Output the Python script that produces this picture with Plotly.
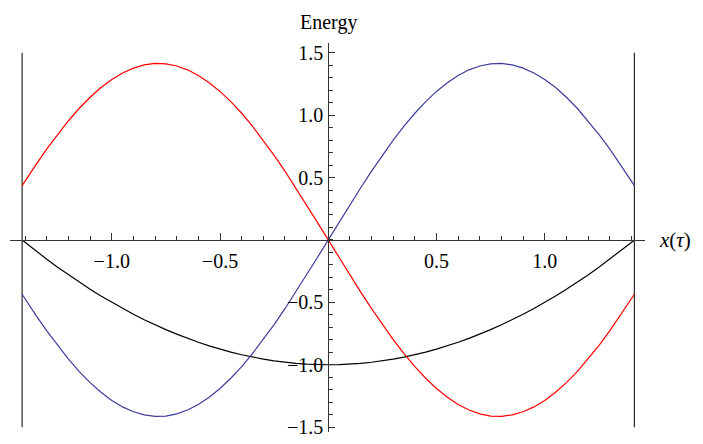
import plotly.graph_objects as go

# Sample positions along x(tau)
x_vals = [-1.414, -1.40, -1.35, -1.30, -1.25, -1.20, -1.15, -1.10, -1.05, -1.00,
          -0.95, -0.90, -0.85, -0.80, -0.75, -0.70, -0.65, -0.60, -0.55, -0.50,
          -0.45, -0.40, -0.35, -0.30, -0.25, -0.20, -0.15, -0.10, -0.05, 0.0,
          0.05, 0.10, 0.15, 0.20, 0.25, 0.30, 0.35, 0.40, 0.45, 0.50,
          0.55, 0.60, 0.65, 0.70, 0.75, 0.80, 0.85, 0.90, 0.95, 1.00,
          1.05, 1.10, 1.15, 1.20, 1.25, 1.30, 1.35, 1.40, 1.414]

# Energy branches
blue_vals = [-0.435, -0.474, -0.604, -0.729, -0.846, -0.955, -1.055, -1.143, -1.221, -1.286,
             -1.338, -1.377, -1.402, -1.414, -1.411, -1.394, -1.363, -1.318, -1.260, -1.190,
             -1.108, -1.015, -0.911, -0.799, -0.678, -0.551, -0.418, -0.281, -0.141, 0.0,
             0.141, 0.281, 0.418, 0.551, 0.678, 0.799, 0.911, 1.015, 1.108, 1.190,
             1.260, 1.318, 1.363, 1.394, 1.411, 1.414, 1.402, 1.377, 1.338, 1.286,
             1.221, 1.143, 1.055, 0.955, 0.846, 0.729, 0.604, 0.474, 0.435]
red_vals = [0.435, 0.474, 0.604, 0.729, 0.846, 0.955, 1.055, 1.143, 1.221, 1.286,
            1.338, 1.377, 1.402, 1.414, 1.411, 1.394, 1.363, 1.318, 1.260, 1.190,
            1.108, 1.015, 0.911, 0.799, 0.678, 0.551, 0.418, 0.281, 0.141, 0.0,
            -0.141, -0.281, -0.418, -0.551, -0.678, -0.799, -0.911, -1.015, -1.108, -1.190,
            -1.260, -1.318, -1.363, -1.394, -1.411, -1.414, -1.402, -1.377, -1.338, -1.286,
            -1.221, -1.143, -1.055, -0.955, -0.846, -0.729, -0.604, -0.474, -0.435]
black_vals = [0.0, -0.02, -0.089, -0.155, -0.219, -0.28, -0.339, -0.395, -0.449, -0.5,
              -0.549, -0.595, -0.639, -0.68, -0.719, -0.755, -0.789, -0.82, -0.849, -0.875,
              -0.899, -0.92, -0.939, -0.955, -0.969, -0.98, -0.989, -0.995, -0.999, -1.0,
              -0.999, -0.995, -0.989, -0.98, -0.969, -0.955, -0.939, -0.92, -0.899, -0.875,
              -0.849, -0.82, -0.789, -0.755, -0.719, -0.68, -0.639, -0.595, -0.549, -0.5,
              -0.449, -0.395, -0.339, -0.28, -0.219, -0.155, -0.089, -0.02, 0.0]

# Boundary walls
wall_x = [-1.414, 1.414]
wall_y = [-1.5, 1.5]

# Tick labels
x_ticks = [-1.0, -0.5, 0.5, 1.0]
x_tick_text = ["\u22121.0", "\u22120.5", "0.5", "1.0"]
y_ticks = [-1.5, -1.0, -0.5, 0.5, 1.0, 1.5]
y_tick_text = ["\u22121.5", "\u22121.0", "\u22120.5", "0.5", "1.0", "1.5"]

x_range = [-1.47, 1.463]
y_range = [-1.539, 1.578]

serif = "Liberation Serif, Times New Roman, serif"

fig = go.Figure()
for wx in wall_x:
    fig.add_trace(go.Scatter(x=[wx, wx], y=wall_y, mode="lines",
                             line=dict(color="#2a2a2a", width=1.2), hoverinfo="skip"))
fig.add_trace(go.Scatter(x=x_vals, y=black_vals, mode="lines",
                         line=dict(color="black", width=1.2)))
fig.add_trace(go.Scatter(x=x_vals, y=red_vals, mode="lines",
                         line=dict(color="#ff0000", width=1.2)))
fig.add_trace(go.Scatter(x=x_vals, y=blue_vals, mode="lines",
                         line=dict(color="#3d3d99", width=1.2)))

x_pos = (0 - x_range[0]) / (x_range[1] - x_range[0])
y_pos = (0 - y_range[0]) / (y_range[1] - y_range[0])

fig.update_layout(
    width=703, height=444,
    margin=dict(l=10, r=703 - 645, t=43, b=6),
    paper_bgcolor="white", plot_bgcolor="white",
    showlegend=False,
    font=dict(family=serif, size=20, color="black"),
    xaxis=dict(range=x_range, anchor="free", position=y_pos, side="bottom",
               showgrid=False, zeroline=False, showline=True, linecolor="#333", linewidth=1,
               tickvals=x_ticks, ticktext=x_tick_text, ticks="inside", ticklen=7,
               tickcolor="#333", tickwidth=1, ticklabelstandoff=3, ticklabeloverflow="allow",
               minor=dict(dtick=0.1, tick0=0, ticks="inside", ticklen=4, tickcolor="#333", tickwidth=1)),
    yaxis=dict(range=y_range, anchor="free", position=x_pos, side="left",
               showgrid=False, zeroline=False, showline=True, linecolor="#333", linewidth=1,
               tickvals=y_ticks, ticktext=y_tick_text, ticks="inside", ticklen=6,
               tickcolor="#333", tickwidth=1, ticklabelstandoff=1, ticklabeloverflow="allow",
               minor=dict(dtick=0.1, tick0=0, ticks="inside", ticklen=4, tickcolor="#333", tickwidth=1)),
    annotations=[
        dict(text="Energy", x=x_pos, y=1.0, xref="paper", yref="paper",
             xanchor="center", yanchor="bottom", yshift=7, showarrow=False,
             font=dict(family=serif, size=20)),
        dict(text="<i>x</i>(<i>\u03c4</i>)", x=1.0, y=y_pos, xref="paper", yref="paper",
             xanchor="left", yanchor="middle", xshift=12, showarrow=False,
             font=dict(family=serif, size=21)),
    ],
)

fig.write_html("out.html")
